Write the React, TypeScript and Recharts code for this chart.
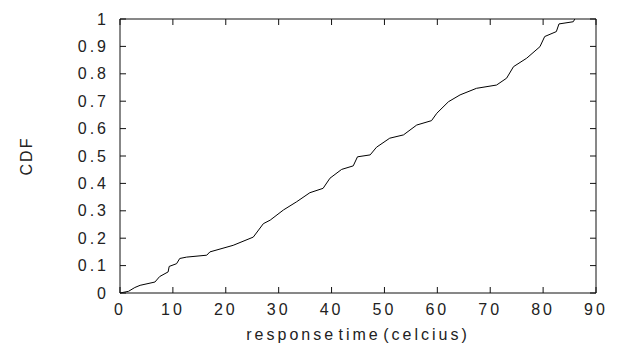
import { LineChart, Line, XAxis, YAxis } from 'recharts'

// response time values (x) and cumulative fraction (y)
const responseTimes = [
    0, 1.6, 2.8, 3.8, 6.6, 7.5, 9.1, 9.3, 10.7, 11.3, 12.6, 16.4, 17, 21.4, 25.2, 27.1, 28.4,
    30.9, 33.4, 35.9, 38.4, 39.7, 41.9, 44.1, 44.9, 47.3, 48.5, 51.0, 53.6, 56.1, 58.9, 59.9,
    62.1, 64.3, 67.4, 71.2, 73.1, 74.4, 76.9, 79.4, 80.3, 82.5, 83.0, 85.7, 86.0,
]
const cdfValues = [
    0, 0.006, 0.02, 0.028, 0.04, 0.06, 0.077, 0.097, 0.107, 0.126, 0.131, 0.138, 0.15, 0.174,
    0.204, 0.253, 0.266, 0.303, 0.333, 0.366, 0.382, 0.419, 0.451, 0.464, 0.497, 0.504, 0.532,
    0.565, 0.577, 0.613, 0.629, 0.656, 0.698, 0.723, 0.747, 0.759, 0.784, 0.826, 0.857, 0.899,
    0.936, 0.954, 0.982, 0.99, 1.0,
]
const xTicks = [0, 10, 20, 30, 40, 50, 60, 70, 80, 90]
const yTicks = [0, 0.1, 0.2, 0.3, 0.4, 0.5, 0.6, 0.7, 0.8, 0.9, 1]

const data = responseTimes.map((t, i) => ({ t, cdf: cdfValues[i] }))

const AXIS = '#111'
const tickStyle = { fontSize: 16, fill: '#222' }

export default function App() {
    return (
        <div
            style={{
                position: 'absolute',
                left: 0,
                top: 0,
                background: '#fff',
                fontFamily: '"Liberation Sans", Arial, sans-serif',
                letterSpacing: '3px',
            }}
        >
            <LineChart width={626} height={347} data={data} margin={{ top: 17, right: 28, left: 0, bottom: 0 }}>
                <XAxis
                    xAxisId="b"
                    dataKey="t"
                    type="number"
                    domain={[0, 90]}
                    ticks={xTicks}
                    interval={0}
                    height={54}
                    stroke={AXIS}
                    tickSize={-6}
                    tickMargin={17}
                    tick={tickStyle}
                    label={{
                        value: 'response time (celcius)',
                        position: 'insideBottom',
                        offset: 7,
                        fontSize: 16,
                        fill: '#222',
                        style: { wordSpacing: '-5px' },
                    }}
                />
                <XAxis
                    xAxisId="top"
                    orientation="top"
                    dataKey="t"
                    type="number"
                    domain={[0, 90]}
                    ticks={xTicks}
                    interval={0}
                    height={2}
                    stroke={AXIS}
                    tickSize={-6}
                    tickFormatter={() => ''}
                />
                <YAxis
                    yAxisId="l"
                    type="number"
                    domain={[0, 1]}
                    ticks={yTicks}
                    interval={0}
                    width={120}
                    stroke={AXIS}
                    tickSize={-6}
                    tickMargin={17}
                    tick={tickStyle}
                    label={{
                        value: 'CDF',
                        content: ({ viewBox }: any) => {
                            const cx = viewBox.x + 26
                            const cy = viewBox.y + viewBox.height / 2
                            return (
                                <text
                                    x={cx}
                                    y={cy}
                                    transform={`rotate(-90 ${cx} ${cy})`}
                                    textAnchor="middle"
                                    dominantBaseline="central"
                                    fontSize={16}
                                    fill="#222"
                                    style={{ letterSpacing: '2px' }}
                                >
                                    CDF
                                </text>
                            )
                        },
                    }}
                />
                <YAxis
                    yAxisId="r"
                    orientation="right"
                    type="number"
                    domain={[0, 1]}
                    ticks={yTicks}
                    interval={0}
                    width={2}
                    stroke={AXIS}
                    tickSize={-6}
                    tickFormatter={() => ''}
                />
                {/* invisible twin so the top/right frame axes get drawn */}
                <Line
                    xAxisId="top"
                    yAxisId="r"
                    dataKey="cdf"
                    stroke="none"
                    dot={false}
                    activeDot={false}
                    isAnimationActive={false}
                />
                <Line
                    xAxisId="b"
                    yAxisId="l"
                    dataKey="cdf"
                    type="linear"
                    stroke="#000"
                    strokeWidth={1}
                    dot={false}
                    isAnimationActive={false}
                />
            </LineChart>
        </div>
    )
}
